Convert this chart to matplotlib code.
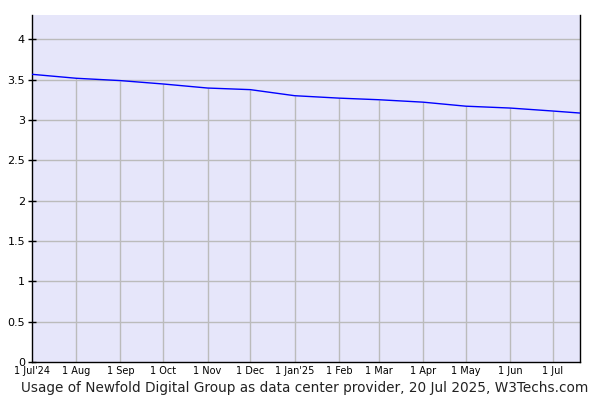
import numpy as np
import matplotlib
matplotlib.use("Agg")
import matplotlib.pyplot as plt
import matplotlib.dates as mdates
from datetime import date

dates = [date(2024, 7, 1), date(2024, 8, 1), date(2024, 9, 1), date(2024, 10, 1),
         date(2024, 11, 1), date(2024, 12, 1), date(2025, 1, 1), date(2025, 2, 1),
         date(2025, 3, 1), date(2025, 4, 1), date(2025, 5, 1), date(2025, 6, 1),
         date(2025, 7, 1), date(2025, 7, 20)]
usage = [3.565, 3.516, 3.487, 3.445, 3.395, 3.375, 3.30, 3.27,
         3.25, 3.22, 3.17, 3.147, 3.11, 3.085]
tick_labels = ["1 Jul'24", "1 Aug", "1 Sep", "1 Oct", "1 Nov", "1 Dec", "1 Jan'25",
               "1 Feb", "1 Mar", "1 Apr", "1 May", "1 Jun", "1 Jul"]
title = "Usage of Newfold Digital Group as data center provider, 20 Jul 2025, W3Techs.com"

x = mdates.date2num(dates)
ticks = x[:-1]
grid_col = "#bbbbbb"

fig = plt.figure(figsize=(6, 4), dpi=100)
ax = fig.add_axes([32 / 600, 38 / 400, 548 / 600, 347 / 400])
ax.set_facecolor("#e6e6fa")

# horizontal grid spans the full width, vertical grid only up to the line
for yv in np.arange(0.5, 4.01, 0.5):
    ax.axhline(yv, color=grid_col, lw=1, zorder=1)
ax.vlines(ticks[1:], 0, np.interp(ticks[1:], x, usage), color=grid_col, lw=1, zorder=1)

ax.plot(x, usage, color="#0000ff", lw=1, zorder=3)

ax.set_xlim(x[0], x[-1])
ax.set_ylim(0, 4.3)
ax.set_xticks(ticks)
ax.set_xticklabels(tick_labels, fontsize=7)
ax.set_yticks(np.arange(0, 4.01, 0.5))
ax.set_yticklabels(["0", "0.5", "1", "1.5", "2", "2.5", "3", "3.5", "4"], fontsize=8)
ax.tick_params(axis="y", direction="inout", length=6, width=1, pad=2)
ax.tick_params(axis="x", length=0, pad=3)

ax.spines["top"].set_visible(False)
for s in ["left", "right", "bottom"]:
    ax.spines[s].set_color("black")
    ax.spines[s].set_linewidth(1)

fig.text(305 / 600, 1 - 388 / 400, title, ha="center", va="center", fontsize=9.8, color="#222222")

fig.savefig("out.png", dpi=100)
